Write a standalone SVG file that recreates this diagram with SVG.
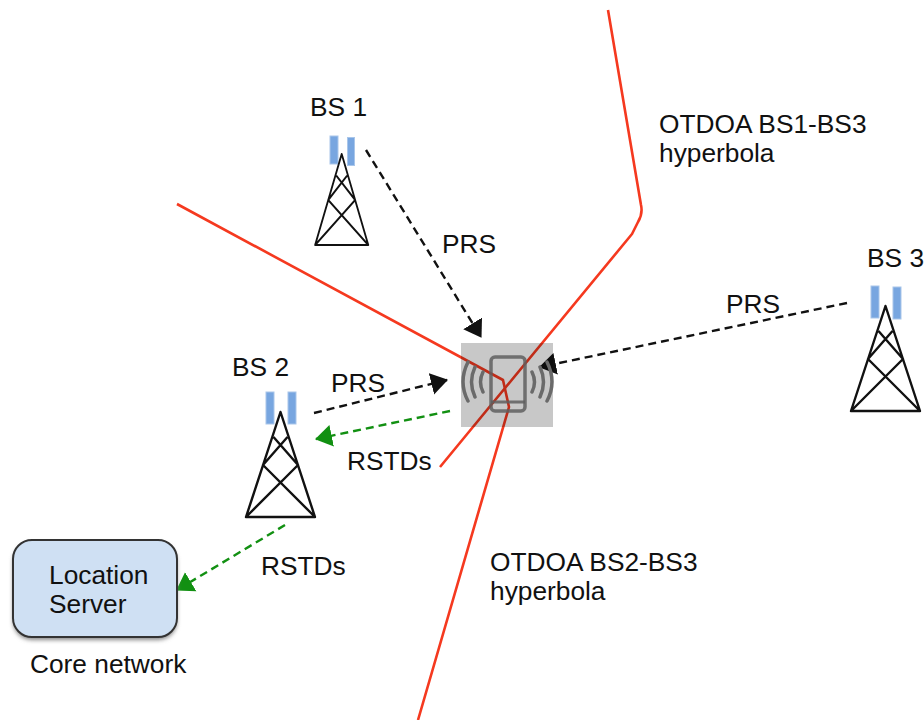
<svg xmlns="http://www.w3.org/2000/svg" width="924" height="720" viewBox="0 0 924 720">
<style>
text{font-family:"Liberation Sans",Arial,sans-serif;font-size:26.300px;fill:#111}
.tw{fill:none;stroke:#111;stroke-width:2.400;stroke-linejoin:round}
.ant{fill:#78a6e0;stroke:#a9c6ea;stroke-width:1}
.red{fill:none;stroke:#f5391f;stroke-width:2.600;stroke-linejoin:round}
.blk{stroke:#111;stroke-width:2.400;stroke-dasharray:8 5;fill:none}
.grn{stroke:#129012;stroke-width:2.400;stroke-dasharray:8 5;fill:none}
.ph{fill:none;stroke:#6a6a6a;stroke-width:3.500;stroke-linecap:round}
</style>
<defs>
<filter id="soft" x="-10%" y="-10%" width="120%" height="125%"><feGaussianBlur stdDeviation="2"/></filter>
<marker id="ab" markerUnits="userSpaceOnUse" markerWidth="18" markerHeight="24" refX="16" refY="12" orient="auto"><path d="M0 1L17 12L0 23z" fill="#111"/></marker>
<marker id="ag" markerUnits="userSpaceOnUse" markerWidth="18" markerHeight="24" refX="16" refY="12" orient="auto"><path d="M0 1L17 12L0 23z" fill="#129012"/></marker>
<path id="tower" class="tw" d="M0 0L-34.500 105H34.500ZM-34.500 105L17.500 53L-7 25M34.500 105L-17.500 53L7 25"/>
</defs>
<rect width="924" height="720" fill="#fff"/>
<g id="connectors">
<path class="red" d="M608 10L641 205Q643 214 638 222L632 234L440 467"/>
<path class="red" d="M177 204L503 380L509 407L418 720"/>
<path class="blk" d="M366 150L481 337" marker-end="url(#ab)"/>
<path class="blk" d="M847 303L540 367" marker-end="url(#ab)"/>
<path class="blk" d="M314 413L447 380" marker-end="url(#ab)"/>
<path class="grn" d="M450 411L316 439" marker-end="url(#ag)"/>
<path class="grn" d="M285 525L177 590" marker-end="url(#ag)"/>
</g>
<g id="phone">
<rect x="461" y="343" width="92" height="84" fill="#000" fill-opacity=".216"/>
<rect x="491" y="357" width="34" height="54" rx="4" fill="none" stroke="#5f5f5f" stroke-opacity=".85" stroke-width="3.500"/>
<path d="M491 402H525" stroke="#5f5f5f" stroke-opacity=".85" stroke-width="3"/>
<path class="ph" d="M483 372Q478 382 483 392M475 367Q468 382 475 397M468 362Q458 382 468 401M532 372Q537 382 532 392M540 367Q547 382 540 397M547 362Q557 382 547 401"/>
</g>
<g id="bs1">
<rect class="ant" x="330" y="136" width="8" height="28"/><rect class="ant" x="347.500" y="137.500" width="7" height="28"/>
<use href="#tower" transform="translate(341.700 154) scale(.77 .867)"/><text x="310" y="116">BS 1</text></g>
<g id="bs2">
<rect class="ant" x="266" y="392" width="8" height="32"/><rect class="ant" x="288" y="392" width="8" height="32"/>
<use href="#tower" transform="translate(280.500 412)"/><text x="232" y="376">BS 2</text></g>
<g id="bs3">
<rect class="ant" x="871" y="286" width="8" height="32"/><rect class="ant" x="893" y="287" width="8" height="32"/>
<use href="#tower" transform="translate(885.500 306)"/><text x="867" y="267">BS 3</text></g>
<g id="server">
<rect x="13" y="543" width="164" height="97" rx="19" fill="#888" filter="url(#soft)"/>
<rect x="13" y="540" width="164" height="97" rx="19" fill="#cfe0f3" stroke="#333" stroke-width="2"/>
<text x="49" y="584">Location</text><text x="49" y="613">Server</text>
</g>
<g id="labels">
<text x="30" y="673">Core network</text>
<text x="442" y="253">PRS</text>
<text x="726" y="313">PRS</text>
<text x="331" y="392">PRS</text>
<text x="347" y="470">RSTDs</text>
<text x="261" y="575">RSTDs</text>
<text x="659" y="133">OTDOA BS1-BS3</text>
<text x="659" y="162">hyperbola</text>
<text x="490" y="571">OTDOA BS2-BS3</text>
<text x="490" y="600">hyperbola</text>
</g>
</svg>
